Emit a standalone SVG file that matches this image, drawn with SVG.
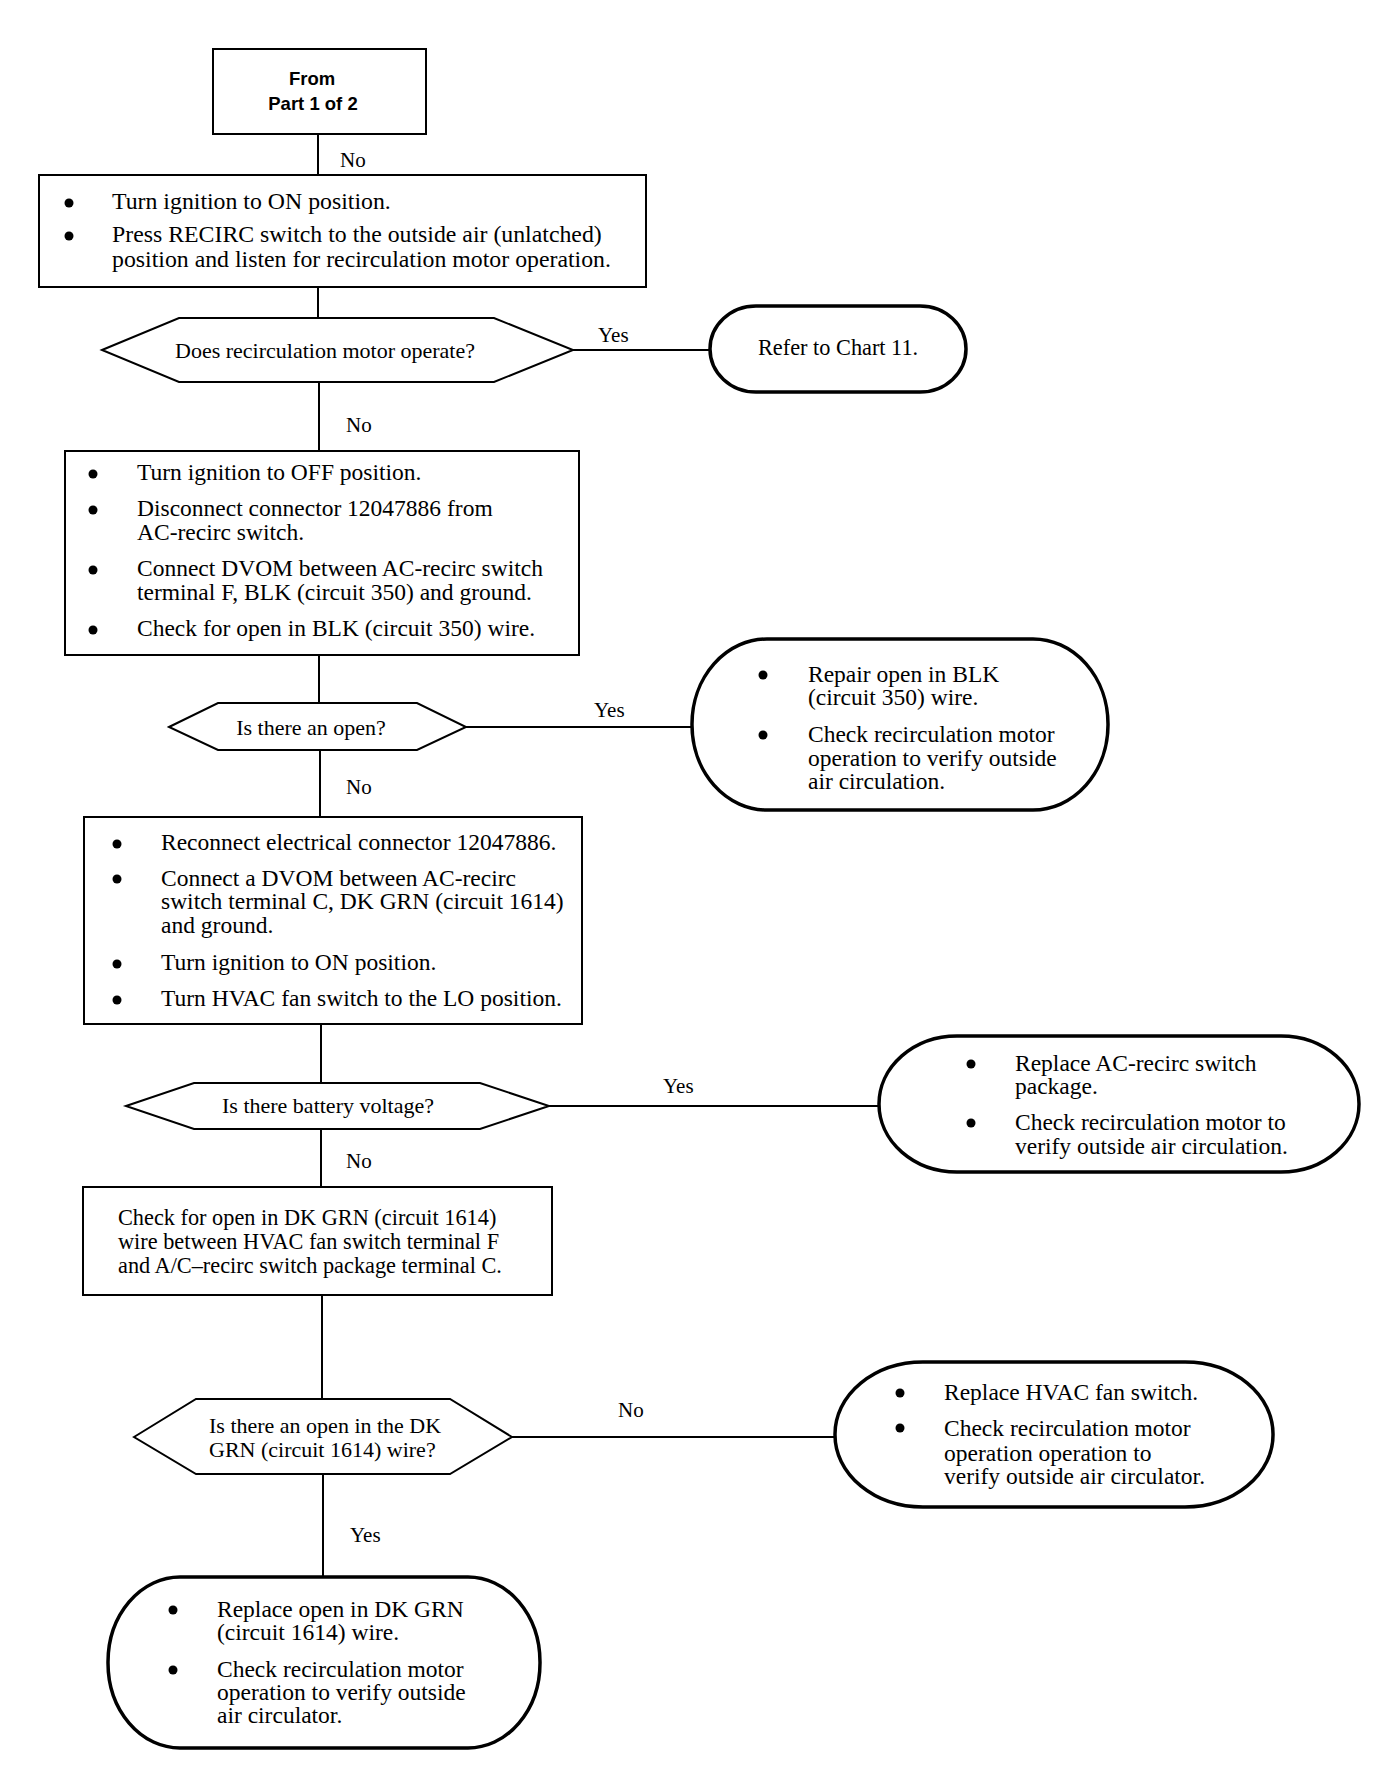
<svg xmlns="http://www.w3.org/2000/svg" width="1392" height="1772" viewBox="0 0 1392 1772">
<style>
.box{fill:#fff;stroke:#000;stroke-width:2}
.term{fill:#fff;stroke:#000;stroke-width:3.5}
.dec{fill:#fff;stroke:#000;stroke-width:2}
.conn line{stroke:#000;stroke-width:2}
.t{font-family:"Liberation Serif","Times New Roman",serif;font-size:23.5px;fill:#000}
.t24{font-size:23.8px}
.t22{font-size:22.3px}
.d{font-family:"Liberation Serif","Times New Roman",serif;font-size:22px;fill:#000}
.lbl{font-family:"Liberation Serif","Times New Roman",serif;font-size:21px;fill:#000}
.h{font-family:"Liberation Sans",Arial,sans-serif;font-size:18.5px;font-weight:bold;fill:#000;text-anchor:middle}
.b{fill:#000}
</style>
<rect width="1392" height="1772" fill="#fff"/>
<g id="connectors" class="conn">
<line x1="318" y1="134" x2="318" y2="175"/>
<line x1="318" y1="287" x2="318" y2="318"/>
<line x1="573" y1="350" x2="710" y2="350"/>
<line x1="319" y1="382" x2="319" y2="451"/>
<line x1="319" y1="655" x2="319" y2="703"/>
<line x1="466" y1="727" x2="692" y2="727"/>
<line x1="320" y1="750" x2="320" y2="817"/>
<line x1="321" y1="1024" x2="321" y2="1083"/>
<line x1="549" y1="1106" x2="879" y2="1106"/>
<line x1="321" y1="1129" x2="321" y2="1187"/>
<line x1="322" y1="1295" x2="322" y2="1399"/>
<line x1="512" y1="1437" x2="835" y2="1437"/>
<line x1="323" y1="1474" x2="323" y2="1577"/>
<text class="lbl" x="340" y="167">No</text>
<text class="lbl" x="598" y="342">Yes</text>
<text class="lbl" x="346" y="432">No</text>
<text class="lbl" x="594" y="717">Yes</text>
<text class="lbl" x="346" y="794">No</text>
<text class="lbl" x="663" y="1093">Yes</text>
<text class="lbl" x="346" y="1168">No</text>
<text class="lbl" x="618" y="1417">No</text>
<text class="lbl" x="350" y="1542">Yes</text>
</g>
<g id="start">
<rect class="box" x="213" y="49" width="213" height="85"/>
<text class="h" x="312" y="85">From</text>
<text class="h" x="313" y="110">Part 1 of 2</text>
</g>
<g id="step1">
<rect class="box" x="39" y="175" width="607" height="112"/>
<circle class="b" cx="69" cy="203" r="4.5"/>
<circle class="b" cx="69" cy="236" r="4.5"/>
<text class="t t24" x="112" y="209">Turn ignition to ON position.</text>
<text class="t t24" x="112" y="242">Press RECIRC switch to the outside air (unlatched)</text>
<text class="t t24" x="112" y="266.5">position and listen for recirculation motor operation.</text>
</g>
<g id="q1">
<polygon class="dec" points="102,350 179,318 494,318 573,350 494,382 179,382"/>
<text class="d" x="325" y="358" text-anchor="middle">Does recirculation motor operate?</text>
</g>
<g id="chart11">
<rect class="term" x="710" y="306" width="256" height="86" rx="46" ry="43"/>
<text class="t t22" x="758" y="355">Refer to Chart 11.</text>
</g>
<g id="step2">
<rect class="box" x="65" y="451" width="514" height="204"/>
<circle class="b" cx="93" cy="474" r="4.5"/>
<circle class="b" cx="93" cy="510" r="4.5"/>
<circle class="b" cx="93" cy="570" r="4.5"/>
<circle class="b" cx="93" cy="630" r="4.5"/>
<text class="t" x="137" y="480">Turn ignition to OFF position.</text>
<text class="t" x="137" y="516">Disconnect connector 12047886 from</text>
<text class="t" x="137" y="540">AC-recirc switch.</text>
<text class="t" x="137" y="576">Connect DVOM between AC-recirc switch</text>
<text class="t" x="137" y="600">terminal F, BLK (circuit 350) and ground.</text>
<text class="t" x="137" y="636">Check for open in BLK (circuit 350) wire.</text>
</g>
<g id="q2">
<polygon class="dec" points="169,727 218,703 417,703 466,727 417,750 218,750"/>
<text class="d" x="311" y="735" text-anchor="middle">Is there an open?</text>
</g>
<g id="repairBlk">
<rect class="term" x="692" y="639" width="416" height="171" rx="75" ry="85"/>
<circle class="b" cx="763" cy="675" r="4.5"/>
<circle class="b" cx="763" cy="735" r="4.5"/>
<text class="t" x="808" y="682">Repair open in BLK</text>
<text class="t" x="808" y="705">(circuit 350) wire.</text>
<text class="t" x="808" y="742">Check recirculation motor</text>
<text class="t" x="808" y="766">operation to verify outside</text>
<text class="t" x="808" y="789">air circulation.</text>
</g>
<g id="step3">
<rect class="box" x="84" y="817" width="498" height="207"/>
<circle class="b" cx="117" cy="844" r="4.5"/>
<circle class="b" cx="117" cy="879" r="4.5"/>
<circle class="b" cx="117" cy="964" r="4.5"/>
<circle class="b" cx="117" cy="1000" r="4.5"/>
<text class="t" x="161" y="850">Reconnect electrical connector 12047886.</text>
<text class="t" x="161" y="886">Connect a DVOM between AC-recirc</text>
<text class="t" x="161" y="909">switch terminal C, DK GRN (circuit 1614)</text>
<text class="t" x="161" y="933">and ground.</text>
<text class="t" x="161" y="970">Turn ignition to ON position.</text>
<text class="t" x="161" y="1006">Turn HVAC fan switch to the LO position.</text>
</g>
<g id="q3">
<polygon class="dec" points="126,1106 194,1083 480,1083 549,1106 480,1129 194,1129"/>
<text class="d" x="328" y="1113" text-anchor="middle">Is there battery voltage?</text>
</g>
<g id="replaceSwitch">
<rect class="term" x="879" y="1036" width="480" height="136" rx="78" ry="68"/>
<circle class="b" cx="971" cy="1064" r="4.5"/>
<circle class="b" cx="971" cy="1123" r="4.5"/>
<text class="t" x="1015" y="1071">Replace AC-recirc switch</text>
<text class="t" x="1015" y="1094">package.</text>
<text class="t" x="1015" y="1130">Check recirculation motor to</text>
<text class="t" x="1015" y="1154">verify outside air circulation.</text>
</g>
<g id="step4">
<rect class="box" x="83" y="1187" width="469" height="108"/>
<text class="t t22" x="118" y="1225">Check for open in DK GRN (circuit 1614)</text>
<text class="t t22" x="118" y="1249">wire between HVAC fan switch terminal F</text>
<text class="t t22" x="118" y="1273">and A/C–recirc switch package terminal C.</text>
</g>
<g id="q4">
<polygon class="dec" points="134,1437 196,1399 450,1399 512,1437 450,1474 196,1474"/>
<text class="d" x="209" y="1433">Is there an open in the DK</text>
<text class="d" x="209" y="1457">GRN (circuit 1614) wire?</text>
</g>
<g id="replaceFan">
<rect class="term" x="835" y="1362" width="438" height="145" rx="88" ry="72"/>
<circle class="b" cx="900" cy="1393" r="4.5"/>
<circle class="b" cx="900" cy="1428" r="4.5"/>
<text class="t" x="944" y="1400">Replace HVAC fan switch.</text>
<text class="t" x="944" y="1436">Check recirculation motor</text>
<text class="t" x="944" y="1461">operation operation to</text>
<text class="t" x="944" y="1484">verify outside air circulator.</text>
</g>
<g id="repairGrn">
<rect class="term" x="108" y="1577" width="432" height="171" rx="72" ry="85"/>
<circle class="b" cx="173" cy="1610" r="4.5"/>
<circle class="b" cx="173" cy="1670" r="4.5"/>
<text class="t" x="217" y="1617">Replace open in DK GRN</text>
<text class="t" x="217" y="1640">(circuit 1614) wire.</text>
<text class="t" x="217" y="1677">Check recirculation motor</text>
<text class="t" x="217" y="1700">operation to verify outside</text>
<text class="t" x="217" y="1723">air circulator.</text>
</g>
</svg>
